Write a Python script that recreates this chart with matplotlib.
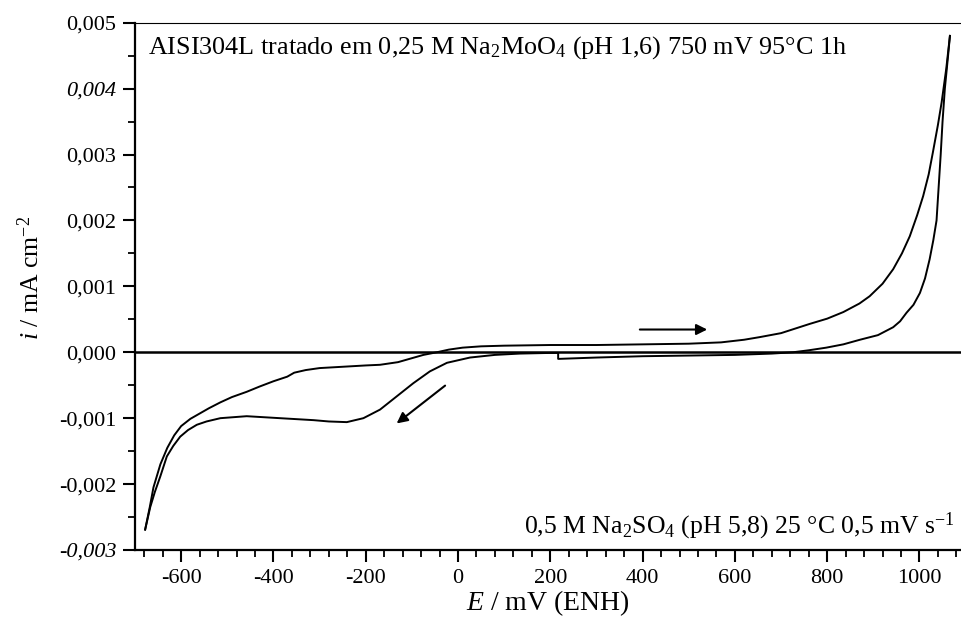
import matplotlib
matplotlib.use("Agg")
import matplotlib.pyplot as plt
from matplotlib.ticker import MultipleLocator, FuncFormatter

plt.rcParams['font.family'] = ['Liberation Serif', 'DejaVu Serif']
plt.rcParams['mathtext.fontset'] = 'custom'
plt.rcParams['mathtext.rm'] = 'Liberation Serif'
plt.rcParams['mathtext.it'] = 'Liberation Serif:italic'
plt.rcParams['mathtext.bf'] = 'Liberation Serif:bold'

# Anodic sweep: from the cathodic limit up to the anodic limit (E in mV, i in mA cm^-2)
E_anodic = [-678, -668, -660, -645, -630, -615, -600, -580, -560, -540, -515, -490,
            -458, -430, -400, -370, -355, -330, -300, -250, -200, -169, -130, -110,
            -75, -46, -20, 10, 50, 100, 200, 300, 400, 500, 570, 620, 654, 700, 762,
            800, 835, 870, 892, 920, 943, 962, 979, 995, 1008, 1020, 1029, 1040,
            1048, 1058, 1066]
i_anodic = [-0.00269, -0.00235, -0.00205, -0.00170, -0.00145, -0.00126, -0.00112,
            -0.00101, -0.00093, -0.00085, -0.00076, -0.00068, -0.00060, -0.00052,
            -0.00044, -0.00037, -0.00031, -0.00027, -0.00024, -0.00022, -0.00020,
            -0.00019, -0.00015, -0.00011, -0.00004, 0.0, 0.00004, 0.00007, 0.00009,
            0.00010, 0.00011, 0.00011, 0.00012, 0.00013, 0.00015, 0.00019, 0.00023,
            0.00029, 0.00043, 0.00051, 0.00061, 0.00074, 0.00085, 0.00104, 0.00126,
            0.00150, 0.00176, 0.00208, 0.00237, 0.00270, 0.00303, 0.00345, 0.00379,
            0.00430, 0.00480]

# Cathodic (return) sweep: from the anodic limit back to the cathodic limit
E_cathodic = [1066, 1062, 1055, 1050, 1046, 1037, 1030, 1022, 1012, 1001, 987, 972,
              958, 943, 910, 871, 835, 798, 760, 726, 680, 600, 500, 400, 300, 220,
              217, 217, 200, 134, 80, 26, -24, -61, -97, -133, -169, -205, -241,
              -280, -313, -386, -458, -515, -545, -566, -585, -602, -617, -631,
              -645, -657, -667, -678]
i_cathodic = [0.00480, 0.00450, 0.00400, 0.00350, 0.00300, 0.00200, 0.00170,
              0.00141, 0.00112, 0.00090, 0.00072, 0.00060, 0.00047, 0.00038,
              0.00026, 0.00019, 0.00012, 0.00007, 0.00003, 0.0, -0.00002, -0.00004,
              -0.00005, -0.00006, -0.00008, -0.00010, -0.00010, -0.00001, -0.00001,
              -0.00002, -0.00004, -0.00008, -0.00016, -0.00029, -0.00047, -0.00067,
              -0.00087, -0.00100, -0.00106, -0.00105, -0.00103, -0.00100, -0.00097,
              -0.00100, -0.00105, -0.00110, -0.00118, -0.00128, -0.00142, -0.00158,
              -0.00188, -0.00212, -0.00235, -0.00269]

x_ticks = [-600, -400, -200, 0, 200, 400, 600, 800, 1000]
y_ticks = [-0.003, -0.002, -0.001, 0.000, 0.001, 0.002, 0.003, 0.004, 0.005]

fig = plt.figure(figsize=(9.61, 6.24), dpi=100)
ax = fig.add_axes([135 / 961, 74 / 624, 826 / 961, 527.3 / 624])

ax.axhline(0, color='black', lw=1.8, zorder=1)
ax.plot(E_anodic, i_anodic, color='black', lw=1.4)
ax.plot(E_cathodic, i_cathodic, color='black', lw=1.4)

# Scan direction arrows
ax.annotate('', xy=(540, 0.000345), xytext=(394, 0.000345),
            arrowprops=dict(arrowstyle='-|>', color='black', lw=1.5,
                            mutation_scale=16, shrinkA=0, shrinkB=0))
ax.annotate('', xy=(-133, -0.00108), xytext=(-28, -0.000506),
            arrowprops=dict(arrowstyle='-|>', color='black', lw=1.5,
                            mutation_scale=16, shrinkA=0, shrinkB=0))

ax.set_xlim(-700, 1090)
ax.set_ylim(-0.003, 0.005)
ax.set_xticks(x_ticks)
ax.set_yticks(y_ticks)
ax.xaxis.set_minor_locator(MultipleLocator(40))
ax.yaxis.set_minor_locator(MultipleLocator(0.0005))
ax.xaxis.set_major_formatter(FuncFormatter(lambda v, p: f"{v:.0f}"))
ax.yaxis.set_major_formatter(FuncFormatter(lambda v, p: f"{v:.3f}".replace('.', ',')))

ax.tick_params(which='major', direction='out', length=8.5, width=1.5, labelsize=16,
               pad=5, top=False, right=False)
ax.tick_params(which='minor', direction='out', length=5, width=1.3, top=False, right=False)
for s in ('left', 'bottom'):
    ax.spines[s].set_linewidth(1.6)
ax.spines['top'].set_linewidth(0.8)
ax.spines['right'].set_visible(False)

fig.canvas.draw()
for lab in ax.get_yticklabels():
    if lab.get_text() in ('0,004', '-0,003'):
        lab.set_style('italic')

ax.set_xlabel('$E$ / mV (ENH)', fontsize=20)
ax.xaxis.set_label_coords(0.5, -0.1005)
ax.xaxis.label.set_va('center')
ax.set_ylabel('$i$ / mA cm$^{-2}$', fontsize=18.5)
ax.yaxis.set_label_coords(-0.126, 0.516)
ax.yaxis.label.set_va('center')

ax.text(0.016, 0.952, 'AISI304L tratado em 0,25 M Na$_2$MoO$_4$ (pH 1,6) 750 mV 95°C 1h',
        transform=ax.transAxes, ha='left', va='center', fontsize=18.8)
ax.text(0.993, 0.044, '0,5 M Na$_2$SO$_4$ (pH 5,8) 25 °C 0,5 mV s$^{-1}$',
        transform=ax.transAxes, ha='right', va='center', fontsize=18.5)

fig.savefig('out.png', dpi=100)
